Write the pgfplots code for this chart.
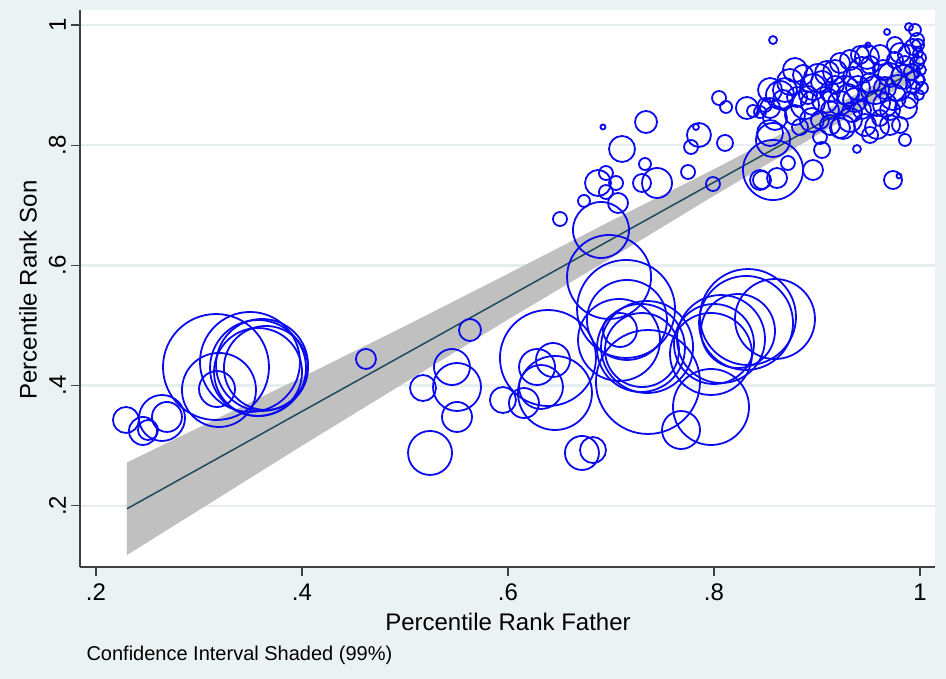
\documentclass[border=0pt]{standalone}
\usepackage{pgfplots}
\pgfplotsset{compat=1.18}
\usepackage{pgfplotstable}
\usepackage{fontspec}
\setmainfont{Liberation Sans}
\definecolor{bgc}{HTML}{EAF2F3}
\definecolor{gridc}{HTML}{E6EEF0}
\definecolor{bandc}{HTML}{C0C0C0}
\definecolor{linec}{HTML}{1F4A5C}
\definecolor{circ}{HTML}{0A0AF0}

\pgfplotstableread{
x y r
0.2291 0.3428 13
0.2456 0.3245 14
0.2505 0.3261 10
0.2641 0.3461 23
0.2689 0.3478 15
0.3165 0.4309 53
0.3194 0.3927 37
0.3175 0.3943 18
0.3495 0.4393 50
0.3573 0.4293 48
0.3612 0.4343 46
0.3573 0.4226 44
0.3650 0.4293 42
0.4621 0.4443 10
0.5631 0.4925 11
0.5175 0.3960 13
0.5456 0.4309 18
0.5505 0.3977 24
0.5505 0.3478 15
0.5243 0.2879 22
0.5951 0.3760 13
0.6155 0.3710 15
0.6388 0.4459 48
0.6282 0.4309 18
0.6437 0.4426 17
0.6456 0.3877 37
0.6320 0.3977 22
0.6718 0.2879 17
0.6825 0.2928 13
0.6981 0.5807 42
0.7146 0.5275 49
0.7155 0.5092 40
0.7087 0.4925 17
0.7350 0.4642 46
0.7301 0.4592 37
0.7359 0.4060 52
0.7078 0.4759 41
0.7291 0.4626 44
0.8330 0.5141 48
0.8311 0.5042 47
0.8592 0.5108 40
0.8068 0.4775 44
0.7971 0.4526 41
0.7971 0.3644 38
0.7680 0.3261 19
0.8233 0.4908 37
0.8000 0.4692 40
0.6505 0.6772 7
0.6903 0.6589 28
0.6738 0.7072 6
0.6874 0.7371 13
0.6951 0.7537 7
0.7049 0.7371 7
0.6951 0.7221 7
0.7068 0.7038 10
0.7107 0.7937 13
0.6922 0.8303 2.5
0.7340 0.8386 11
0.7330 0.7687 6
0.7301 0.7371 9
0.7447 0.7371 15
0.7748 0.7554 7
0.7777 0.7970 7
0.7854 0.8170 12
0.7825 0.8303 3
0.8107 0.8037 8
0.7990 0.7354 7
0.8049 0.8785 7
0.8117 0.8636 6
0.8320 0.8619 11
0.8379 0.8569 6
0.8447 0.8552 6
0.8544 0.8203 13
0.8573 0.7587 30
0.8466 0.7421 9
0.8573 0.9750 4
0.9680 0.9884 3
0.9893 0.9967 4
0.9495 0.9667 2.5
0.9388 0.7937 4
0.9738 0.7421 9
0.9796 0.7488 2.5
0.8544 0.8619 10
0.8738 0.9052 13
0.8670 0.8752 10
0.8806 0.8802 10
0.8864 0.9168 10
0.8961 0.8968 13
0.8961 0.8702 12
0.9097 0.9201 12
0.9126 0.8885 10
0.9223 0.9368 10
0.9223 0.8702 12
0.9252 0.8303 12
0.9350 0.9135 10
0.9485 0.9468 12
0.9515 0.9035 10
0.9583 0.8702 13
0.9641 0.9251 10
0.9583 0.8303 12
0.9738 0.8802 13
0.9806 0.9534 10
0.9835 0.9135 12
0.9903 0.8752 8
0.9932 0.9634 8
0.9971 0.9368 7
0.9971 0.9750 7
0.9932 0.8968 7
1.0000 0.9085 5
0.9981 0.9534 5
0.8573 0.8087 17
0.8447 0.7421 10
0.8612 0.7454 10
0.8718 0.7704 7
0.8961 0.7587 10
0.9049 0.7920 8
0.9029 0.8136 7
0.8835 0.8303 8
0.9223 0.8286 10
0.8495 0.8669 7
0.8689 0.8918 12
0.8913 0.8835 9
0.9049 0.9052 11
0.9175 0.9002 9
0.9301 0.8835 11
0.9398 0.8952 12
0.9437 0.8586 9
0.9660 0.8952 11
0.9709 0.8586 10
0.9854 0.9334 9
0.9922 0.9218 8
0.9951 0.9917 6
0.9981 0.9667 6
1.0000 0.9451 6
1.0010 0.9251 5
1.0019 0.8952 6
0.9990 0.8835 5
0.9757 0.9418 8
0.9515 0.9334 9
0.9320 0.9418 10
0.9126 0.8586 9
0.8786 0.8502 10
0.9029 0.8419 9
0.9612 0.8453 8
0.9806 0.8336 8
0.9854 0.8087 6
0.9515 0.8170 8
0.9340 0.8552 10
0.8641 0.8835 14
0.8786 0.9251 12
0.8883 0.8669 14
0.9010 0.9118 14
0.9078 0.8752 13
0.9175 0.9218 12
0.9272 0.8918 14
0.9369 0.8752 12
0.9437 0.9251 13
0.9563 0.8918 14
0.9660 0.8669 12
0.9709 0.9168 12
0.9786 0.8952 13
0.9864 0.8619 11
0.9883 0.9501 10
0.9951 0.9085 9
0.9757 0.9667 8
0.9612 0.9501 10
0.9417 0.9501 9
0.9320 0.8419 12
0.9126 0.8336 10
0.8951 0.8419 12
0.9466 0.8336 11
0.9709 0.8336 10
0.8544 0.8918 12
0.8592 0.8453 12
}\circles

\begin{document}
\begin{tikzpicture}
\fill[bgc] (-80pt,-112pt) rectangle (866pt,567pt);
\useasboundingbox (-80pt,-112pt) rectangle (866pt,567pt);
\begin{axis}[
  at={(0pt,0pt)}, anchor=south west,
  scale only axis, width=855pt, height=557pt,
  xmin=0.18447, xmax=1.01457, ymin=0.09817, ymax=1.02496,
  axis x line*=bottom, axis y line*=left,
  axis line style={line width=1.2pt, color=black!75},
  axis background/.style={fill=white},
  xtick={0.2,0.4,0.6,0.8,1}, xticklabels={.2,.4,.6,.8,1},
  ytick={0.2,0.4,0.6,0.8,1}, yticklabels={.2,.4,.6,.8,1},
  tick align=outside, major tick length=9pt,
  tick style={line width=1.2pt, color=black!75},
  ymajorgrids, grid style={line width=2.5pt, color=gridc},
  ticklabel style={font=\fontsize{24}{28}\selectfont},
  xticklabel style={yshift=-4pt},
  yticklabel style={rotate=90, anchor=south, inner sep=5pt},
]
\addplot[fill=bandc, draw=none] coordinates {
 (0.23,0.272) (0.4,0.414) (0.5,0.499) (0.6,0.586) (0.7,0.674) (0.8,0.760) (0.87,0.823) (0.95,0.896) (1.0,0.944)
 (1.0,0.914) (0.95,0.866) (0.87,0.787) (0.8,0.716) (0.7,0.612) (0.6,0.510) (0.5,0.405) (0.4,0.300) (0.23,0.118)
} -- cycle;
\addplot[linec, line width=1.5pt] coordinates {(0.23,0.195) (1.0,0.929)};
\addplot[scatter, only marks, mark=o, line width=1.8pt,
  scatter/use mapped color={draw=circ, fill=none},
  visualization depends on={\thisrow{r} \as \rr},
  scatter/@pre marker code/.append style={/tikz/mark size=\rr}]
  table[x=x, y=y, meta=r] {\circles};
\end{axis}
\node[rotate=90, font=\fontsize{24}{28}\selectfont] at (-52pt,277pt) {Percentile Rank Son};
\node[font=\fontsize{24}{28}\selectfont] at (428pt,-55pt) {Percentile Rank Father};
\node[anchor=west, font=\fontsize{20}{24}\selectfont] at (3pt,-88pt) {Confidence Interval Shaded (99\%)};
\end{tikzpicture}
\end{document}
